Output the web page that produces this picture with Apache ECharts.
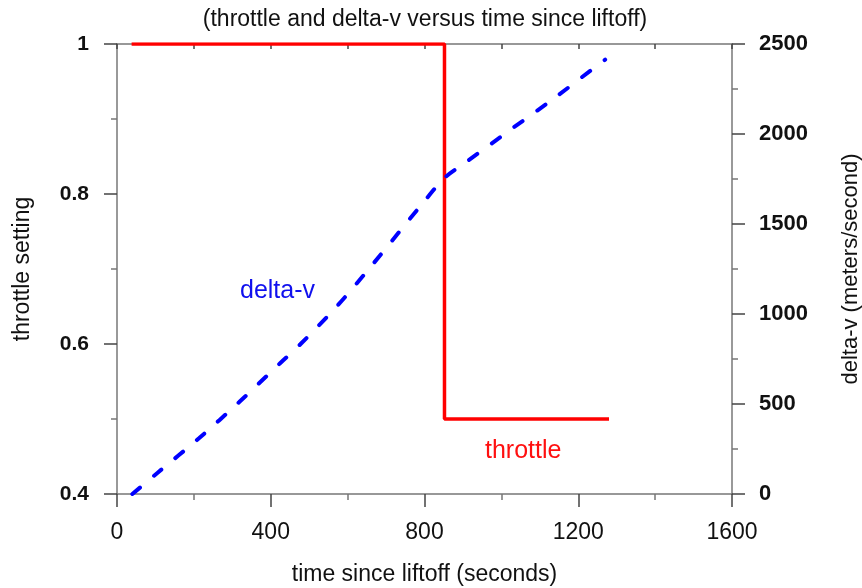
<!DOCTYPE html>
<html>
<head>
<meta charset="UTF-8">
<title>throttle and delta-v</title>
<script src="https://cdn.jsdelivr.net/npm/echarts@6/dist/echarts.min.js"></script>
<style>
  html, body { margin: 0; padding: 0; background: #fff; }
  #main { width: 862px; height: 588px; }
</style>
</head>
<body>
<div id="main"></div>
<script>
// throttle setting (left axis)
var throttle = [[38, 1], [852, 1], [852, 0.5], [1280, 0.5]];
// delta-v, meters/second (right axis)
var deltaV = [[40, 0], [105, 117], [214, 311], [318, 511], [425, 728], [477, 832],
  [575, 1050], [666, 1278], [802, 1633], [852, 1756], [906, 1840], [1018, 2015],
  [1135, 2195], [1249, 2380], [1270, 2413]];

var font = 'Liberation Sans, Arial, sans-serif';
var axisCol = '#777';
var plain = function (v) { return String(v); };

var chart = echarts.init(document.getElementById('main'));

var option = {
  animation: false,
  title: {
    text: '(throttle and delta-v versus time since liftoff)',
    left: 420, top: 3, textAlign: 'center',
    textStyle: { fontFamily: font, fontSize: 23, fontWeight: 'normal', color: '#111' }
  },
  grid: { left: 117, right: 130, top: 44, bottom: 94, outerBoundsMode: 'none' },
  xAxis: [{
    type: 'value', min: 0, max: 1600, interval: 400,
    name: 'time since liftoff (seconds)', nameLocation: 'middle', nameGap: 69,
    nameTextStyle: { fontFamily: font, fontSize: 23, color: '#111' },
    axisLine: { onZero: false, lineStyle: { color: axisCol, width: 1.5 } },
    axisTick: { length: 13, lineStyle: { color: '#444', width: 1.5 } },
    minorTick: { show: true, splitNumber: 2, length: 6, lineStyle: { color: axisCol, width: 1.5 } },
    axisLabel: { margin: 27, fontFamily: font, fontSize: 23, color: '#111', formatter: plain },
    splitLine: { show: false }
  }, {
    type: 'value', position: 'top', min: 0, max: 1600, interval: 200,
    axisLine: { onZero: false, lineStyle: { color: axisCol, width: 1.5 } },
    axisTick: { inside: true, length: 5, lineStyle: { color: '#444', width: 1.5 } },
    axisLabel: { show: false },
    splitLine: { show: false }
  }],
  yAxis: [{
    type: 'value', min: 0.4, max: 1, interval: 0.2,
    name: 'throttle setting', nameLocation: 'middle', nameGap: 83,
    nameTextStyle: { fontFamily: font, fontSize: 23, color: '#111' },
    axisLine: { show: true, onZero: false, lineStyle: { color: axisCol, width: 1.5 } },
    axisTick: { show: true, length: 13, lineStyle: { color: '#444', width: 1.5 } },
    minorTick: { show: true, splitNumber: 2, length: 6, lineStyle: { color: axisCol, width: 1.5 } },
    axisLabel: { margin: 28, fontFamily: font, fontSize: 21, fontWeight: 'bold', color: '#111' },
    splitLine: { show: false }
  }, {
    type: 'value', min: 0, max: 2500, interval: 500, position: 'right',
    name: 'delta-v (meters/second)', nameLocation: 'middle', nameGap: 108,
    nameTextStyle: { fontFamily: font, fontSize: 22, color: '#111' },
    axisLine: { show: true, onZero: false, lineStyle: { color: axisCol, width: 1.5 } },
    axisTick: { show: true, length: 13, lineStyle: { color: '#444', width: 1.5 } },
    minorTick: { show: true, splitNumber: 2, length: 6, lineStyle: { color: axisCol, width: 1.5 } },
    axisLabel: { margin: 27, fontFamily: font, fontSize: 22, fontWeight: 'bold', color: '#111', formatter: plain },
    splitLine: { show: false }
  }],
  graphic: [
    { type: 'text', left: 240, top: 279, style: { text: 'delta-v', fill: '#1010ee', font: '25px ' + font } },
    { type: 'text', left: 485, top: 439, style: { text: 'throttle', fill: '#ff1010', font: '25px ' + font } }
  ],
  series: [{
    name: 'throttle', type: 'line', xAxisIndex: 0, yAxisIndex: 0,
    data: throttle, symbol: 'none',
    lineStyle: { color: '#ff0000', width: 3.5 }
  }, {
    name: 'delta-v', type: 'line', xAxisIndex: 0, yAxisIndex: 1,
    data: deltaV, symbol: 'none', smooth: 0.3,
    lineStyle: { color: '#0000ff', width: 4, type: [10, 18], cap: 'round' }
  }]
};

chart.setOption(option);
</script>
</body>
</html>
